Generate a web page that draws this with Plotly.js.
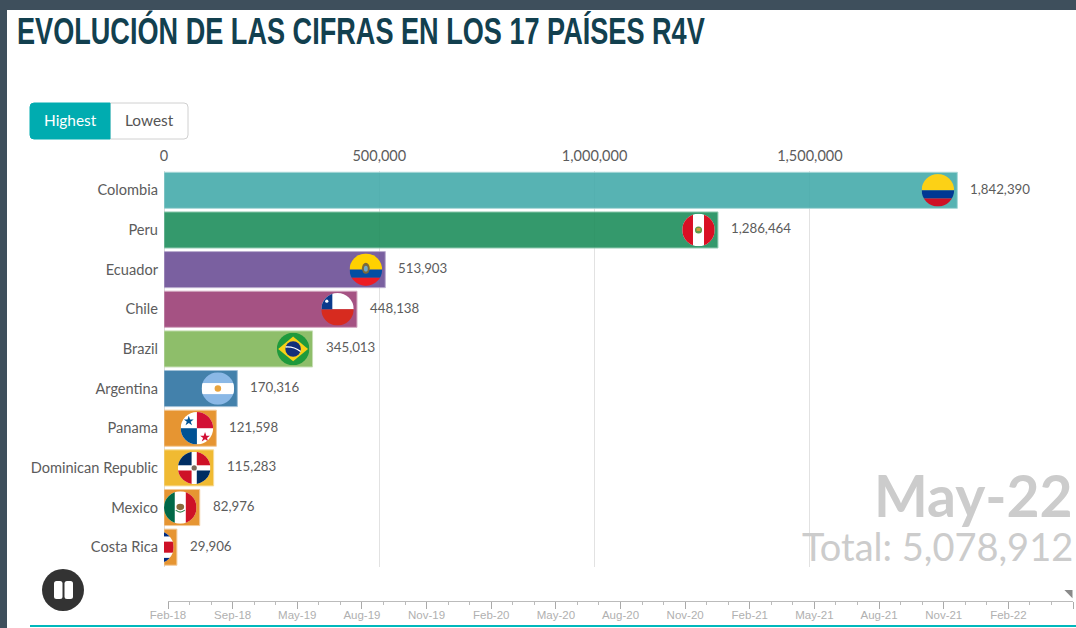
<!DOCTYPE html>
<html>
<head>
<meta charset="utf-8">
<script src="https://cdn.plot.ly/plotly-3.0.1.min.js"></script>
<style>html,body{margin:0;padding:0;background:#fff;overflow:hidden}#chart{width:1076px;height:628px}</style>
</head>
<body>
<div id="chart"></div>
<script>
const categories = ["Colombia","Peru","Ecuador","Chile","Brazil","Argentina","Panama","Dominican Republic","Mexico","Costa Rica"];
const values = [1842390,1286464,513903,448138,345013,170316,121598,115283,82976,29906];
const barColors = ["#45abab","#1f8e5d","#6c4f96","#9c4076","#82b85a","#2f74a3","#e48a1c","#efb31c","#e48a1c","#e48a1c"];
const barEdges = ["#9fd3d3","#8cc8ad","#b5a6cb","#cf9fba","#c2dcae","#97bad2","#f2c58f","#f7d98f","#f2c58f","#f2c58f"];
const timelineLabels = ["Feb-18","Sep-18","May-19","Aug-19","Nov-19","Feb-20","May-20","Aug-20","Nov-20","Feb-21","May-21","Aug-21","Nov-21","Feb-22",""];
const xTicks = [0,500000,1000000,1500000];
const currentDate = "May-22";
const totalText = "Total: 5,078,912";
const titleText = "EVOLUCIÓN DE LAS CIFRAS EN LOS 17 PAÍSES R4V";

const W = 1076, H = 628;
const px = x => x / W, py = y => 1 - y / H;
const unitsPerPx = 500000 / 215.3;
const labelFont = "Lato, 'Noto Sans', sans-serif";

const flagBodies = {
  "Colombia": '<rect width="100" height="50" fill="#fcd116"/><rect y="50" width="100" height="25" fill="#003893"/><rect y="75" width="100" height="25" fill="#ce1126"/>',
  "Peru": '<rect width="100" height="100" fill="#fff"/><rect width="33" height="100" fill="#d91023"/><rect x="67" width="33" height="100" fill="#d91023"/><circle cx="50" cy="50" r="11" fill="#5f9b4a"/><rect x="44" y="44" width="12" height="9" fill="#c9a23a"/>',
  "Ecuador": '<rect width="100" height="50" fill="#ffd100"/><rect y="50" width="100" height="25" fill="#034ea2"/><rect y="75" width="100" height="25" fill="#ed1c24"/><ellipse cx="50" cy="46" rx="12" ry="17" fill="#7a6a3a"/><ellipse cx="50" cy="47" rx="6" ry="9" fill="#6fa8c8"/>',
  "Chile": '<rect width="100" height="50" fill="#fff"/><rect y="50" width="100" height="50" fill="#d72b1f"/><rect width="34" height="50" fill="#0a3a8c"/><circle cx="17" cy="25" r="5" fill="#fff"/>',
  "Brazil": '<rect width="100" height="100" fill="#1f9a3c"/><polygon points="50,12 96,50 50,88 4,50" fill="#f7d117"/><circle cx="50" cy="50" r="24" fill="#12307a"/><path d="M27 44 Q52 42 73 58" stroke="#fff" stroke-width="4" fill="none"/>',
  "Argentina": '<rect width="100" height="100" fill="#8ab8e6"/><rect y="33" width="100" height="34" fill="#fff"/><circle cx="50" cy="50" r="10" fill="#e8a33d"/>',
  "Panama": '<rect width="100" height="100" fill="#fff"/><rect x="50" width="50" height="50" fill="#d21034"/><rect y="50" width="50" height="50" fill="#005293"/><polygon points="25,12 29,23 40,23 31,30 35,41 25,34 15,41 19,30 10,23 21,23" fill="#005293"/><polygon points="75,62 79,73 90,73 81,80 85,91 75,84 65,91 69,80 60,73 71,73" fill="#d21034"/>',
  "Dominican Republic": '<rect width="100" height="100" fill="#fff"/><rect width="42" height="42" fill="#002d62"/><rect x="58" width="42" height="42" fill="#ce1126"/><rect y="58" width="42" height="42" fill="#ce1126"/><rect x="58" y="58" width="42" height="42" fill="#002d62"/><circle cx="50" cy="50" r="8" fill="#7a6a5a"/>',
  "Mexico": '<rect width="100" height="100" fill="#fff"/><rect width="33" height="100" fill="#006847"/><rect x="67" width="33" height="100" fill="#ce1126"/><ellipse cx="50" cy="48" rx="12" ry="10" fill="#8a6a3a"/><path d="M36 58 Q50 70 64 58" stroke="#3f8a5a" stroke-width="4" fill="none"/>',
  "Costa Rica": '<rect width="100" height="100" fill="#fff"/><rect width="100" height="17" fill="#002b7f"/><rect y="83" width="100" height="17" fill="#002b7f"/><rect y="33" width="100" height="34" fill="#ce1126"/>'
};

function flagUri(name) {
  const svg = '<svg xmlns="http://www.w3.org/2000/svg" width="100" height="100" viewBox="0 0 100 100"><defs><clipPath id="c"><circle cx="50" cy="50" r="50"/></clipPath></defs><g clip-path="url(#c)">' + flagBodies[name] + '</g></svg>';
  return 'data:image/svg+xml;base64,' + btoa(svg);
}

const images = categories.map((name, i) => ({
  source: flagUri(name), xref: 'x', yref: 'y',
  x: values[i] - 3.2 * unitsPerPx, y: i,
  sizex: 32.5 * unitsPerPx, sizey: 32.5 / 39.65,
  xanchor: 'right', yanchor: 'middle', sizing: 'stretch', layer: 'above'
}));

const valueLabels = categories.map((name, i) => ({
  xref: 'x', yref: 'y', x: values[i], y: i, xshift: 11, yshift: 1.5, xanchor: 'left', yanchor: 'middle',
  text: values[i].toLocaleString('en-US'), showarrow: false,
  font: {family: labelFont, size: 13.3, color: '#5c5c5c'}
}));

const bars = {
  type: 'bar', orientation: 'h', x: values, y: categories,
  width: 0.91,
  marker: {color: barColors, opacity: 0.9, line: {color: barEdges, width: 1}},
  hoverinfo: 'x+y', showlegend: false
};

const timelineHandle = {
  type: 'scatter', mode: 'markers', x: [13.95], y: [0.62], xaxis: 'x2', yaxis: 'y2',
  marker: {symbol: 'triangle-ne', size: 9, color: '#8a8a8a'},
  cliponaxis: false, showlegend: false, hoverinfo: 'skip'
};

const rr = (x0, y0, x1, y1, tl, tr, br, bl) => {
  const X = px, Y = py;
  return `M${X(x0+tl)} ${Y(y0)} L${X(x1-tr)} ${Y(y0)} Q${X(x1)} ${Y(y0)} ${X(x1)} ${Y(y0+tr)} L${X(x1)} ${Y(y1-br)} Q${X(x1)} ${Y(y1)} ${X(x1-br)} ${Y(y1)} L${X(x0+bl)} ${Y(y1)} Q${X(x0)} ${Y(y1)} ${X(x0)} ${Y(y1-bl)} L${X(x0)} ${Y(y0+tl)} Q${X(x0)} ${Y(y0)} ${X(x0+tl)} ${Y(y0)} Z`;
};
const pShape = o => Object.assign({xref: 'paper', yref: 'paper', layer: 'above'}, o);

const shapes = [
  pShape({type: 'rect', x0: 0, x1: 1, y0: py(10), y1: 1, fillcolor: '#3e4f5c', line: {width: 0}, layer: 'below'}),
  pShape({type: 'rect', x0: 0, x1: px(7), y0: 0, y1: 1, fillcolor: '#3e4f5c', line: {width: 0}, layer: 'below'}),
  pShape({type: 'path', path: rr(110, 103, 188, 139, 0, 4, 4, 0), fillcolor: '#fff', line: {color: '#d0d0d0', width: 1}}),
  pShape({type: 'path', path: rr(30, 103, 110, 139, 4, 0, 0, 4), fillcolor: '#00acb0', line: {color: '#00acb0', width: 1}}),
  pShape({type: 'circle', x0: px(42), x1: px(84), y0: py(611), y1: py(569), fillcolor: '#333333', line: {width: 0}}),
  pShape({type: 'path', path: rr(54, 581, 62.5, 599, 2.5, 2.5, 2.5, 2.5), fillcolor: '#fff', line: {width: 0}}),
  pShape({type: 'path', path: rr(64.5, 581, 73, 599, 2.5, 2.5, 2.5, 2.5), fillcolor: '#fff', line: {width: 0}}),
  pShape({type: 'line', x0: px(30), x1: 1, y0: py(626), y1: py(626), line: {color: '#00b8bc', width: 2}})
];

const annotations = valueLabels.concat([
  {xref: 'paper', yref: 'paper', x: px(70), y: py(120), xanchor: 'center', yanchor: 'middle', text: 'Highest', showarrow: false, font: {family: labelFont, size: 15.4, color: '#fff'}},
  {xref: 'paper', yref: 'paper', x: px(149), y: py(120), xanchor: 'center', yanchor: 'middle', text: 'Lowest', showarrow: false, font: {family: labelFont, size: 15.4, color: '#555'}},
  {xref: 'paper', yref: 'paper', x: px(1075), y: py(495), xanchor: 'right', yanchor: 'middle', text: '<b>' + currentDate + '</b>', showarrow: false, font: {family: labelFont, size: 57, color: '#cccccc'}},
  {xref: 'paper', yref: 'paper', x: px(1075), y: py(546), xanchor: 'right', yanchor: 'middle', text: totalText, showarrow: false, font: {family: labelFont, size: 38, color: '#cccccc'}}
]);

const layout = {
  width: W, height: H,
  margin: {l: 0, r: 0, t: 0, b: 0},
  paper_bgcolor: '#fff', plot_bgcolor: '#fff',
  title: {
    text: '<b>' + titleText + '</b>',
    x: px(17), xanchor: 'left', xref: 'paper',
    y: py(31), yanchor: 'middle', yref: 'container',
    font: {family: "'Liberation Sans', sans-serif", size: 36, color: '#12404f'}
  },
  xaxis: {
    domain: [px(164), 1], range: [0, 912 * unitsPerPx], side: 'top', anchor: 'y',
    tickvals: xTicks, tickformat: ',d', tickfont: {family: labelFont, size: 14.5, color: '#5c5c5c'},
    showgrid: true, gridcolor: '#e2e2e2', gridwidth: 1, zeroline: true, zerolinecolor: '#dcdcdc', zerolinewidth: 1,
    showline: false, ticks: '', ticklabelstandoff: 6, automargin: false, fixedrange: true
  },
  yaxis: {
    domain: [py(567), py(170.5)], type: 'category', categoryorder: 'array', categoryarray: categories,
    range: [9.5, -0.5], anchor: 'x', tickfont: {family: labelFont, size: 14.6, color: '#5c5c5c'},
    showgrid: false, zeroline: false, showline: false, ticks: '', ticklabelstandoff: 5, ticklabelshift: -2.5, automargin: false, fixedrange: true
  },
  xaxis2: {
    domain: [px(168), px(1073)], range: [0, 14], anchor: 'y2',
    tickvals: timelineLabels.map((l, i) => i), ticktext: timelineLabels,
    ticks: 'outside', ticklen: 7, tickcolor: '#aaaaaa', tickwidth: 1,
    minor: {dtick: 1 / 3, tick0: 0, ticks: 'outside', ticklen: 3, tickcolor: '#bbbbbb', tickwidth: 1},
    showline: true, linecolor: '#bbbbbb', linewidth: 1, showgrid: false, zeroline: false, ticklabelstandoff: -3,
    tickfont: {family: "'Liberation Sans', Arial, sans-serif", size: 11.5, color: '#b0b0b0'},
    automargin: false, fixedrange: true
  },
  yaxis2: {domain: [py(600.5), py(588)], range: [0, 1], anchor: 'x2', visible: false, fixedrange: true},
  images, shapes, annotations, showlegend: false
};

Plotly.newPlot('chart', [bars, timelineHandle], layout, {displayModeBar: false}).then(gd => {
  const t = gd.querySelector('.gtitle');
  if (t) {
    const box = t.getBBox();
    const k = 688 / box.width;
    t.setAttribute('transform', `translate(${box.x} 0) scale(${k} 1.02) translate(${-box.x} 0)`);
  }
});
</script>
</body>
</html>
